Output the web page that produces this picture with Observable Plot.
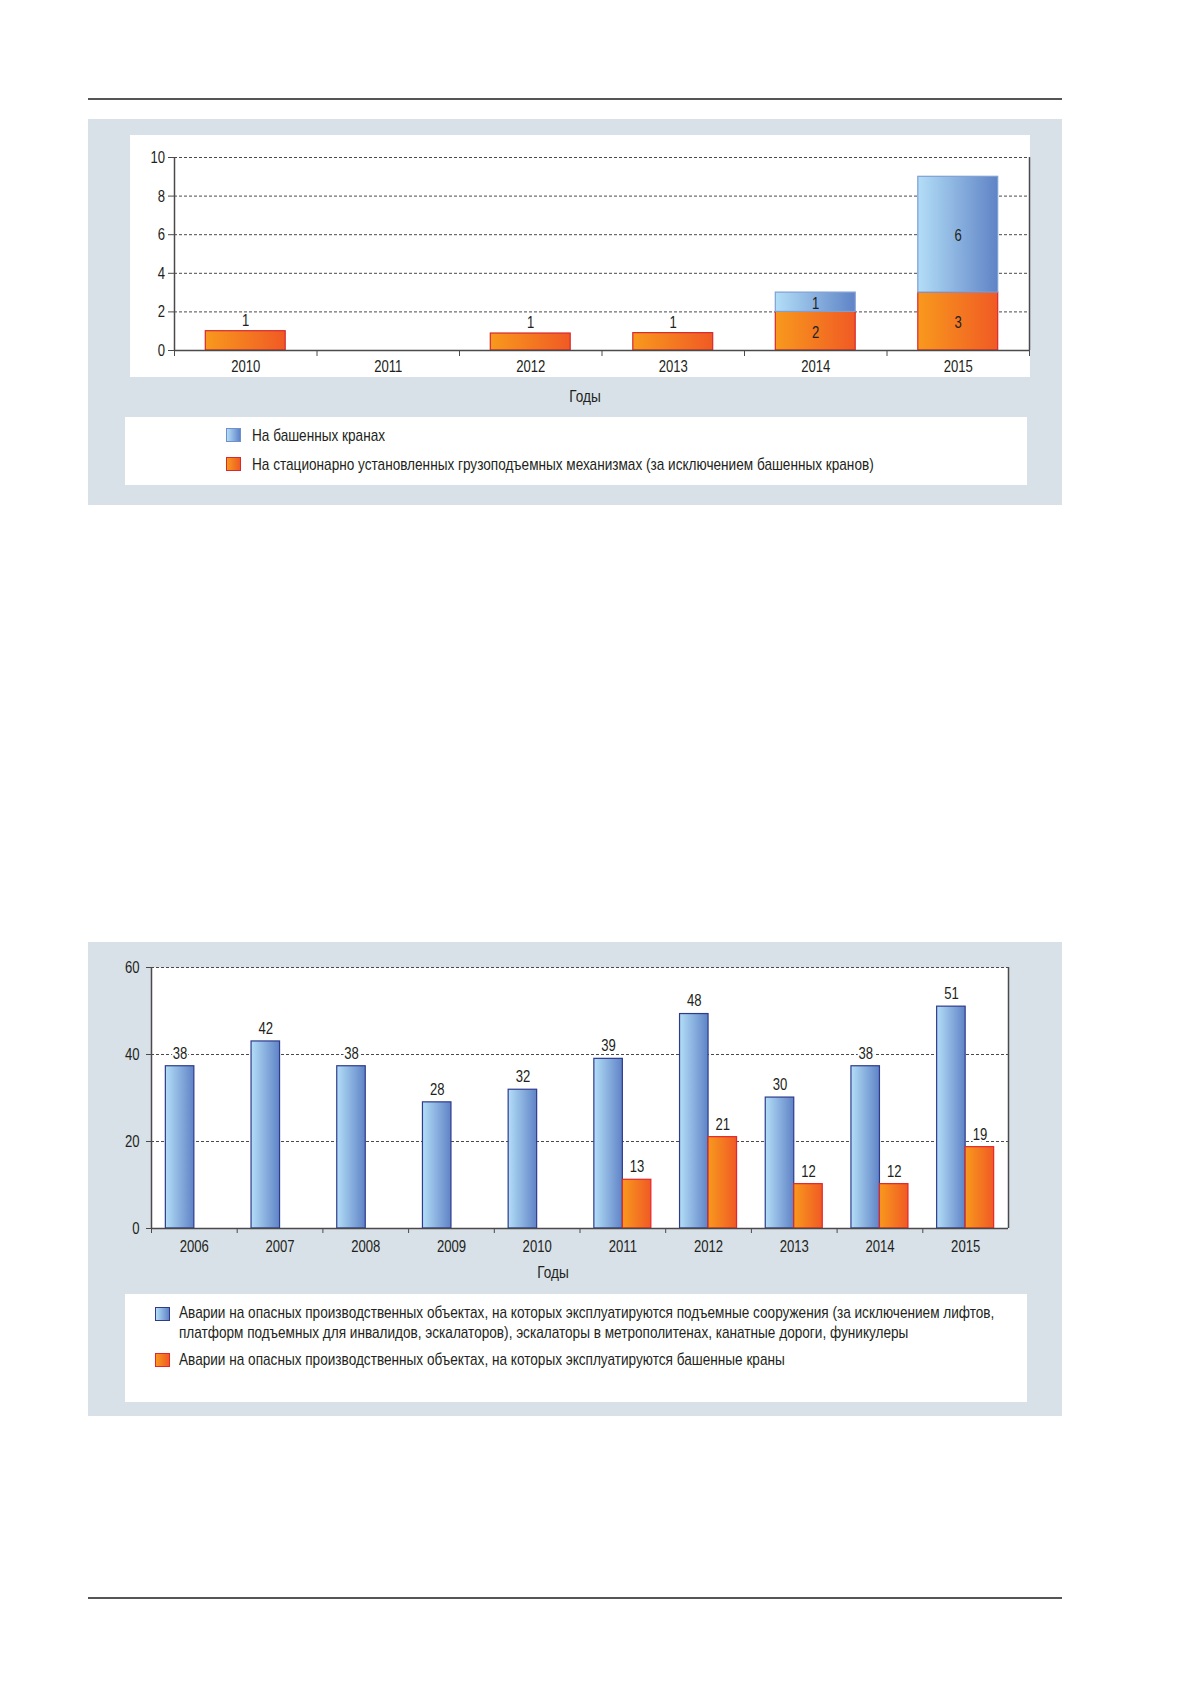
<!DOCTYPE html>
<html>
<head>
<meta charset="utf-8">
<script src="https://cdn.jsdelivr.net/npm/d3@7"></script>
<script src="https://cdn.jsdelivr.net/npm/@observablehq/plot@0.6"></script>
<style>
  html, body { margin: 0; padding: 0; background: #fff; }
  body { width: 1179px; height: 1681px; position: relative; overflow: hidden;
         font-family: 'Liberation Sans', Arial, sans-serif; color: #231f20; }
  .abs { position: absolute; }
  .rule { background: #555; height: 2px; }
  .panel { background: #d8e1e8; }
  .white { background: #fff; }
  .lbl { font-size: 17px; line-height: 20px; white-space: nowrap; transform: scaleX(0.80); transform-origin: 0 0; }
  .ctr { transform-origin: 50% 0; }
  .sw { width: 13px; height: 12px; border: 1px solid; }
  .sw.blue { background: linear-gradient(to right, #b3def7, #5f83c6); border-color: #6f8fcf; }
  .sw.orange { background: linear-gradient(to right, #f8991d, #f05a24); border-color: #d62a2e; }
</style>
</head>
<body>
<div class="abs rule" style="left:88px; top:98px; width:974px;"></div>

<div class="abs panel" style="left:88px; top:119px; width:974px; height:386px;"></div>
<div id="chart1" class="abs" style="left:130px; top:135px;"></div>
<div class="abs lbl ctr" style="left:545px; width:80px; text-align:center; top:387px;">Годы</div>
<div class="abs white" style="left:125px; top:417px; width:902px; height:68px;"></div>
<div class="abs sw blue" style="left:226px; top:428px;"></div>
<div class="abs lbl" style="left:252px; top:426px;">На башенных кранах</div>
<div class="abs sw orange" style="left:226px; top:457px;"></div>
<div class="abs lbl" style="left:252px; top:455px;">На стационарно установленных грузоподъемных механизмах (за исключением башенных кранов)</div>

<div class="abs panel" style="left:88px; top:942px; width:974px; height:474px;"></div>
<div id="chart2" class="abs" style="left:88px; top:942px;"></div>
<div class="abs lbl ctr" style="left:513px; width:80px; text-align:center; top:1263px;">Годы</div>
<div class="abs white" style="left:125px; top:1294px; width:902px; height:108px;"></div>
<div class="abs sw blue" style="left:155px; top:1307px; border-color:#2e3a8c;"></div>
<div class="abs lbl" style="left:179px; top:1303px;">Аварии на опасных производственных объектах, на которых эксплуатируются подъемные сооружения (за исключением лифтов,<br>платформ подъемных для инвалидов, эскалаторов), эскалаторы в метрополитенах, канатные дороги, фуникулеры</div>
<div class="abs sw orange" style="left:155px; top:1353px; border-color:#e3262b;"></div>
<div class="abs lbl" style="left:179px; top:1350px;">Аварии на опасных производственных объектах, на которых эксплуатируются башенные краны</div>

<div class="abs rule" style="left:88px; top:1597px; width:974px;"></div>

<script>
// ---------- Chart 1 data ----------
const years1 = [2010, 2011, 2012, 2013, 2014, 2015];
const stationaryBar = [1.0, 0, 0.88, 0.9, 2.0, 3.0];   // bar heights as drawn
const stationaryLabel = [1, null, 1, 1, 2, 3];          // printed values
const towerBar = [0, 0, 0, 0, 1.0, 6.0];
const towerLabel = [null, null, null, null, 1, 6];
const yTicks1 = [0, 2, 4, 6, 8, 10];

// ---------- Chart 2 data ----------
const years2 = [2006, 2007, 2008, 2009, 2010, 2011, 2012, 2013, 2014, 2015];
const liftBar = [37.3, 43.0, 37.3, 29.0, 31.9, 39.0, 49.3, 30.1, 37.3, 51.0];
const liftLabel = [38, 42, 38, 28, 32, 39, 48, 30, 38, 51];
const craneBar = [null, null, null, null, null, 11.2, 21.0, 10.2, 10.2, 18.7];
const craneLabel = [null, null, null, null, null, 13, 21, 12, 12, 19];
const yTicks2 = [0, 20, 40, 60];

const FONT = "'Liberation Sans', Arial, sans-serif";
const INK = "#231f20";
const AX = "#4a4a4a";
const FS = 17;
const NARROW = 0.77;

function addDefs(svg, prefix) {
  const ns = "http://www.w3.org/2000/svg";
  const defs = document.createElementNS(ns, "defs");
  defs.innerHTML =
    `<linearGradient id="${prefix}blue" x1="0" x2="1" y1="0" y2="0">
       <stop offset="0" stop-color="#b3def7"/><stop offset="1" stop-color="#5f83c6"/></linearGradient>
     <linearGradient id="${prefix}orange" x1="0" x2="1" y1="0" y2="0">
       <stop offset="0" stop-color="#f8991d"/><stop offset="1" stop-color="#f05a24"/></linearGradient>`;
  svg.insertBefore(defs, svg.firstChild);
}
// narrow the glyphs horizontally around each text's anchor (condensed face look)
function condense(svg, k) {
  svg.querySelectorAll("text").forEach(t => {
    const x = +t.getAttribute("x") || 0, y = +t.getAttribute("y") || 0;
    const tr = t.getAttribute("transform") || "";
    t.setAttribute("transform", `${tr} translate(${x},${y}) scale(${k},1) translate(${-x},${-y})`);
  });
}

// ---------- Chart 1 ----------
const rows1 = years1.map((y, i) => ({
  year: y,
  s0: 0, s1: stationaryBar[i],
  t0: stationaryBar[i], t1: stationaryBar[i] + towerBar[i],
  sl: stationaryLabel[i], tl: towerLabel[i]
}));
const above1 = [], inside1 = [];
rows1.forEach(r => {
  if (r.sl != null) {
    if (r.t1 <= 1.2) above1.push({year: r.year, y: r.s1, text: String(r.sl)});
    else inside1.push({year: r.year, y: (r.s0 + r.s1) / 2, text: String(r.sl)});
  }
  if (r.tl != null) inside1.push({year: r.year, y: (r.t0 + r.t1) / 2, text: String(r.tl)});
});
const bounds1 = d3.range(years1.length + 1).map(i => years1[0] - 0.5 + i);

const c1 = Plot.plot({
  width: 900, height: 242,
  marginLeft: 44, marginRight: 1, marginTop: 22, marginBottom: 27,
  style: {fontFamily: FONT, background: "white", color: INK, overflow: "visible"},
  x: {domain: [years1[0] - 0.5, years1[years1.length - 1] + 0.5], axis: null},
  y: {domain: [0, 10], axis: null},
  marks: [
    Plot.gridY(yTicks1.slice(1), {stroke: AX, strokeOpacity: 1, strokeDasharray: "3,2", strokeWidth: 1}),
    Plot.ruleX([bounds1[bounds1.length - 1]], {stroke: AX, strokeWidth: 1.5}),
    Plot.rectY(rows1.filter(r => r.s1 > 0), {x1: d => d.year - 0.5, x2: d => d.year + 0.5, y1: "s0", y2: "s1",
      insetLeft: 31.3, insetRight: 31.3, fill: "url(#c1orange)", stroke: "#d7282f", strokeWidth: 1.2}),
    Plot.rectY(rows1.filter(r => r.t1 > r.t0), {x1: d => d.year - 0.5, x2: d => d.year + 0.5, y1: "t0", y2: "t1",
      insetLeft: 31.3, insetRight: 31.3, fill: "url(#c1blue)", stroke: "#7f9fd4", strokeWidth: 1.2}),
    Plot.ruleX([bounds1[0]], {stroke: AX, strokeWidth: 1.5}),
    Plot.ruleY([0], {stroke: AX, strokeWidth: 1.5}),
    Plot.axisY(yTicks1, {tickSize: 6, tickPadding: 3.5, fontSize: FS, stroke: AX, fill: INK, tickFormat: d => d, label: null}),
    Plot.axisX(bounds1, {tickSize: 6, tickFormat: () => "", stroke: AX, label: null}),
    Plot.axisX(years1, {tickSize: 0, tickPadding: 9, fontSize: FS, fill: INK, tickFormat: d => String(d), label: null}),
    Plot.text(above1, {x: "year", y: "y", text: "text", dy: -11, fontSize: FS, fill: INK}),
    Plot.text(inside1, {x: "year", y: "y", text: "text", dy: 1, fontSize: FS, fill: INK})
  ]
});
addDefs(c1, "c1");
condense(c1, NARROW);
document.getElementById("chart1").appendChild(c1);

// ---------- Chart 2 ----------
const rows2 = years2.map((y, i) => ({year: y, lift: liftBar[i], ll: liftLabel[i], crane: craneBar[i], cl: craneLabel[i]}));
const bounds2 = d3.range(years2.length + 1).map(i => years2[0] - 0.5 + i);
const step2 = 857 / years2.length;
const barW2 = 28.5;

const c2 = Plot.plot({
  width: 974, height: 318,
  marginLeft: 63, marginRight: 54, marginTop: 25, marginBottom: 32,
  style: {fontFamily: FONT, background: "transparent", color: INK, overflow: "visible"},
  x: {domain: [years2[0] - 0.5, years2[years2.length - 1] + 0.5], axis: null},
  y: {domain: [0, 60], axis: null},
  marks: [
    Plot.frame({fill: "white", stroke: null}),
    Plot.gridY(yTicks2.slice(1), {stroke: AX, strokeOpacity: 1, strokeDasharray: "3,2", strokeWidth: 1}),
    Plot.ruleX([bounds2[bounds2.length - 1]], {stroke: AX, strokeWidth: 1.5}),
    Plot.rectY(rows2, {x1: d => d.year - 0.5, x2: d => d.year + 0.5, y: "lift",
      insetLeft: step2 / 2 - barW2, insetRight: step2 / 2, fill: "url(#c2blue)", stroke: "#2e3a8c", strokeWidth: 1.2}),
    Plot.rectY(rows2.filter(d => d.crane != null), {x1: d => d.year - 0.5, x2: d => d.year + 0.5, y: "crane",
      insetLeft: step2 / 2, insetRight: step2 / 2 - barW2, fill: "url(#c2orange)", stroke: "#e3262b", strokeWidth: 1.2}),
    Plot.ruleX([bounds2[0]], {stroke: AX, strokeWidth: 1.5}),
    Plot.ruleY([0], {stroke: AX, strokeWidth: 1.5}),
    Plot.axisY(yTicks2, {tickSize: 5, tickPadding: 7, fontSize: FS, stroke: AX, fill: INK, tickFormat: d => d, label: null}),
    Plot.axisX(bounds2.slice(0, -1), {tickSize: 5, tickFormat: () => "", stroke: AX, label: null}),
    Plot.axisX(years2, {tickSize: 0, tickPadding: 11, fontSize: FS, fill: INK, tickFormat: d => String(d), label: null}),
    Plot.text(rows2, {x: "year", y: "lift", text: d => String(d.ll), dx: -(barW2 / 2), dy: -13, fontSize: FS, fill: INK,
      stroke: "white", strokeWidth: 4}),
    Plot.text(rows2.filter(d => d.crane != null), {x: "year", y: "crane", text: d => String(d.cl), dx: barW2 / 2, dy: -13,
      fontSize: FS, fill: INK, stroke: "white", strokeWidth: 4})
  ]
});
addDefs(c2, "c2");
condense(c2, NARROW);
document.getElementById("chart2").appendChild(c2);
</script>
</body>
</html>
